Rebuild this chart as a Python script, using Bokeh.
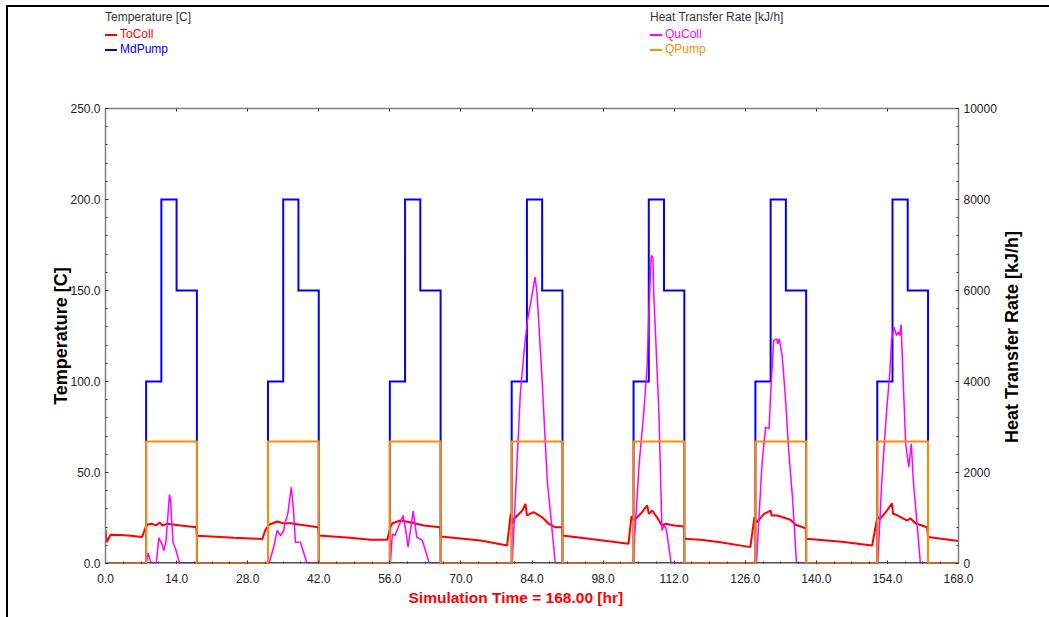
import math
from bokeh.plotting import figure
from bokeh.layouts import column, row
from bokeh.models import (Range1d, LinearAxis, SingleIntervalTicker,
                          NumeralTickFormatter, Title, Div)
from bokeh.embed import file_html
from bokeh.resources import INLINE

# ---------------- data (one week of simulation, hourly axis) ----------------
# Collector outlet temperature [C]
tocoll_time = [0.0, 0.2, 1.0, 3.0, 5.0, 7.2, 7.9, 8.3, 9.2, 9.9, 10.7, 11.2, 12.1,
               14.8, 17.9, 18.0, 25.3, 30.9, 31.5, 32.2, 33.8, 35.0, 36.4, 38.4,
               41.9, 42.0, 48.2, 52.2, 55.5, 56.1, 56.5, 58.1, 60.0, 62.7, 65.9,
               66.0, 73.9, 79.1, 79.8, 80.1, 80.5, 82.1, 82.7, 83.0, 84.3, 86.0,
               87.3, 88.6, 89.9, 90.0, 96.0, 103.0, 103.6, 104.1, 105.4, 106.7,
               107.0, 107.7, 108.6, 109.6, 110.3, 112.0, 113.9, 114.0, 117.2,
               121.1, 127.0, 127.8, 128.3, 129.7, 131.0, 131.2, 132.3, 134.9,
               135.9, 137.9, 138.0, 145.0, 151.0, 152.0, 152.6, 153.9, 154.9,
               155.1, 155.7, 157.9, 158.5, 159.5, 161.8, 162.0, 168.0]
tocoll_temp = [18.7, 11.7, 15.8, 15.6, 15.2, 14.5, 19.9, 21.4, 21.8, 20.9, 22.5, 20.9, 21.8,
               20.9, 19.9, 15.2, 14.1, 13.5, 18.5, 21.3, 23.1, 22.1, 22.1, 21.3,
               19.9, 15.4, 14.1, 13.0, 13.0, 19.9, 22.1, 23.6, 22.7, 20.9, 19.9,
               14.8, 12.6, 9.9, 27.3, 21.8, 24.6, 29.1, 32.8, 26.4, 28.2, 25.4,
               21.8, 19.9, 19.9, 15.4, 13.3, 10.8, 26.0, 23.6, 27.3, 31.9,
               27.3, 29.1, 25.4, 20.9, 21.8, 20.9, 20.3, 13.6, 13.0,
               11.7, 9.0, 25.4, 22.7, 27.3, 29.1, 26.4, 26.4, 24.0,
               21.3, 19.4, 13.6, 12.0, 9.9, 25.4, 24.6, 29.1, 33.1,
               27.3, 26.8, 23.6, 24.9, 22.1, 19.9, 14.5, 12.3]

# Pump mass flow [kg/h], plotted on the temperature scale
mdpump_time = [0, 8, 8, 11, 11, 14, 14, 18, 18,
               32, 32, 35, 35, 38, 38, 42, 42,
               56, 56, 59, 59, 62, 62, 66, 66,
               80, 80, 83, 83, 86, 86, 90, 90,
               104, 104, 107, 107, 110, 110, 114, 114,
               128, 128, 131, 131, 134, 134, 138, 138,
               152, 152, 155, 155, 158, 158, 162, 162,
               168]
mdpump_flow = [0, 0, 100, 100, 200, 200, 150, 150, 0,
               0, 100, 100, 200, 200, 150, 150, 0,
               0, 100, 100, 200, 200, 150, 150, 0,
               0, 100, 100, 200, 200, 150, 150, 0,
               0, 100, 100, 200, 200, 150, 150, 0,
               0, 100, 100, 200, 200, 150, 150, 0,
               0, 100, 100, 200, 200, 150, 150, 0,
               0]

# Useful collector gain [kJ/h]
qucoll_time = [0.0, 8.0, 8.4, 9.0, 10.0, 10.5, 11.1, 11.5, 11.9, 12.6, 12.8, 13.3, 13.8, 14.6,
               32.2, 33.2, 33.8, 34.5, 35.1, 35.4, 35.9, 36.6, 37.0, 37.4, 38.4, 39.7,
               56.1, 56.5, 57.0, 58.6, 59.1, 59.6, 60.1, 60.6, 61.3, 62.4, 63.8,
               80.1, 81.7, 82.4, 83.1, 83.7, 84.6, 85.0, 86.0, 87.0, 88.6,
               103.9, 105.1, 106.0, 106.7, 107.0, 107.5, 107.8, 108.0, 108.3, 109.0,
               109.6, 110.0, 110.3, 110.6, 111.4,
               128.2, 129.3, 130.0, 130.7, 131.0, 131.6, 132.2, 132.4, 132.7, 133.3,
               133.9, 134.6, 135.3, 136.1,
               152.1, 152.9, 153.8, 154.5, 154.8, 155.3, 155.8, 156.1, 156.4, 156.7,
               157.1, 157.6, 158.2, 158.7, 159.1, 160.5, 168.0]
qucoll_rate = [0, 0, 227, 0, 0, 565, 433, 286, 469, 1517, 1385, 469, 323, 0,
               0, 396, 725, 615, 725, 908, 1092, 1677, 1202, 469, 469, 0,
               0, 652, 615, 1055, 762, 359, 762, 1150, 579, 506, 0,
               0, 3730, 4609, 5341, 5708, 6293, 5928, 4022, 1824, 0,
               0, 2191, 3290, 4389, 5488, 6770, 6733, 5853, 5121, 3290,
               725, 835, 798, 652, 0,
               0, 2191, 2997, 2960, 3730, 4902, 4938, 4829, 4938, 4535,
               3656, 2411, 1458, 0,
               0, 1824, 3290, 4242, 4902, 5194, 5011, 5084, 5011, 5253,
               4022, 2631, 2117, 2631, 1824, 0, 0]

# Pump heat [kJ/h]
qpump_time = [0, 8, 8, 18, 18, 32, 32, 42, 42, 56, 56, 66, 66, 80, 80, 90, 90,
              104, 104, 114, 114, 128, 128, 138, 138, 152, 152, 162, 162, 168]
qpump_rate = [0, 0, 2680, 2680, 0, 0, 2680, 2680, 0, 0, 2680, 2680, 0, 0, 2680, 2680, 0,
              0, 2680, 2680, 0, 0, 2680, 2680, 0, 0, 2680, 2680, 0, 0]

time_range = (0, 168)
temp_range = (0, 250)
heat_range = (0, 10000)

FONT = "Liberation Sans"
GRAY = "#808080"
RED, BLUE, MAGENTA, ORANGE = "#FF0000", "#0000FF", "#FF00FF", "#FF8C00"

# ---------------- legend header (two groups, one per y-axis) ----------------
def legend_entry(label, color, left, top):
    return (f'<span style="position:absolute;left:{left}px;top:{top}px;color:{color};'
            f'white-space:nowrap;">'
            f'<span style="display:inline-block;width:12px;height:2px;background:{color};'
            f'vertical-align:middle;margin-right:3px;"></span>{label}</span>')


def legend_title(label, left, top):
    return (f'<span style="position:absolute;left:{left}px;top:{top}px;color:#333333;'
            f'white-space:nowrap;">{label}</span>')


header_html = (
    f'<div style="position:relative;width:1041px;height:60px;'
    f'font-family:\'{FONT}\';font-size:12px;line-height:14px;">'
    + legend_title("Temperature [C]", 97, 3)
    + legend_entry("ToColl", RED, 97, 20)
    + legend_entry("MdPump", BLUE, 97, 35)
    + legend_title("Heat Transfer Rate [kJ/h]", 642, 3)
    + legend_entry("QuColl", MAGENTA, 642, 20)
    + legend_entry("QPump", ORANGE, 642, 35)
    + '</div>'
)
header = Div(text=header_html, width=1041, height=60, margin=(0, 0, 0, 0))

# ---------------- figure ----------------
p = figure(width=992, height=550,
           x_range=Range1d(*time_range), y_range=Range1d(*temp_range),
           output_backend="svg", toolbar_location=None,
           min_border_left=97, min_border_right=42,
           min_border_top=41, min_border_bottom=54, margin=(0, 0, 0, 0))
p.background_fill_color = "white"
p.border_fill_color = "white"
p.outline_line_color = None
p.xgrid.visible = False
p.ygrid.visible = False
p.extra_y_ranges = {"heat": Range1d(*heat_range)}


def style_axis(ax, line_color=GRAY, line_width=1.5):
    ax.axis_line_color = line_color
    ax.axis_line_width = line_width
    ax.major_tick_in = 3
    ax.major_tick_out = 0
    ax.minor_tick_in = 2
    ax.minor_tick_out = 0
    ax.major_tick_line_color = "#333333"
    ax.minor_tick_line_color = "#333333"
    ax.major_label_text_font = FONT
    ax.major_label_text_font_size = "12px"
    ax.major_label_text_color = "#222222"
    ax.major_label_standoff = 5
    ax.axis_label_text_font = FONT
    ax.axis_label_text_font_size = "18px"
    ax.axis_label_text_font_style = "bold"
    ax.axis_label_text_color = "#000000"


# bottom time axis; its baseline is drawn as a glyph so the pump trace can sit on it
xa = p.xaxis[0]
xa.ticker = SingleIntervalTicker(interval=14, num_minor_ticks=4)
xa.formatter = NumeralTickFormatter(format="0.0")
style_axis(xa)
xa.axis_line_color = None
xa.major_label_standoff = 10

# left temperature axis
ya = p.yaxis[0]
ya.ticker = SingleIntervalTicker(interval=50, num_minor_ticks=5)
ya.formatter = NumeralTickFormatter(format="0.0")
style_axis(ya)
ya.axis_label = "Temperature [C]"
ya.axis_label_standoff = -4

# right heat-rate axis (its title sits in the strip to the right of the figure)
ra = LinearAxis(y_range_name="heat",
                ticker=SingleIntervalTicker(interval=2000, num_minor_ticks=5),
                formatter=NumeralTickFormatter(format="0"))
style_axis(ra)
p.add_layout(ra, "right")

# top frame edge with time ticks
ta = LinearAxis(ticker=SingleIntervalTicker(interval=14, num_minor_ticks=0))
style_axis(ta)
ta.major_label_text_color = None
p.add_layout(ta, "above")

# simulation-time caption under the time axis
p.add_layout(Title(text="Simulation Time = 168.00 [hr]", align="left", offset=303,
                   text_color=RED, text_font=FONT, text_font_size="15.5px",
                   text_font_style="bold", standoff=3), "below")

# ---------------- series ----------------
p.line(tocoll_time, tocoll_temp, line_color=RED, line_width=2)
p.line(mdpump_time, mdpump_flow, line_color=BLUE, line_width=2, line_join="miter")
p.line(qucoll_time, qucoll_rate, line_color=MAGENTA, line_width=1.5,
       y_range_name="heat")
p.line(list(time_range), [0, 0], line_color="#505050", line_width=3)
p.line(qpump_time, qpump_rate, line_color=ORANGE, line_width=2,
       line_join="miter", y_range_name="heat")

# ---------------- right-hand axis title, reading bottom to top ----------------
right_title = Div(
    text=(f'<div style="position:relative;width:49px;height:550px;">'
          f'<div style="position:absolute;left:12px;top:270px;'
          f'transform:translate(-50%,-50%) rotate(-90deg);white-space:nowrap;'
          f'font-family:\'{FONT}\';font-size:18px;font-weight:bold;color:#000000;'
          f'line-height:21px;">Heat Transfer Rate [kJ/h]</div></div>'),
    width=49, height=550, margin=(0, 0, 0, 0))

page = column(header, row(p, right_title, margin=(0, 0, 0, 0)), margin=(5, 0, 0, 6))
page.styles = {"border-left": "2px solid #000000", "border-top": "2px solid #000000",
               "background": "white"}

open("out.html", "w").write(file_html(page, INLINE))
